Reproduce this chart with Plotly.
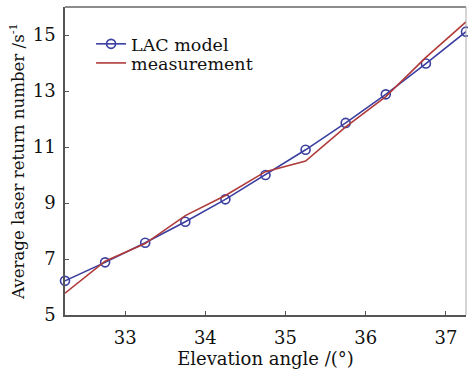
import plotly.graph_objects as go

angles = [32.25, 32.75, 33.25, 33.75, 34.25, 34.75, 35.25, 35.75, 36.25, 36.75, 37.25]
lac_model = [6.22, 6.88, 7.58, 8.33, 9.13, 10.0, 10.9, 11.86, 12.88, 13.98, 15.12]
measurement = [5.78, 6.92, 7.55, 8.55, 9.27, 10.12, 10.5, 11.72, 12.8, 14.2, 15.47]

x_ticks = [33, 34, 35, 36, 37]
y_ticks = [5, 7, 9, 11, 13, 15]

FONT = "DejaVu Serif"
TXT = "#111"

fig = go.Figure()
fig.add_trace(go.Scatter(
    x=angles, y=lac_model, mode="lines+markers", name="LAC model",
    line=dict(color="#3a3fa0", width=1.6),
    marker=dict(symbol="circle-open", size=9, color="#3a3fa0", line=dict(width=1.6)),
    cliponaxis=False, legend="legend",
))
fig.add_trace(go.Scatter(
    x=angles, y=measurement, mode="lines", name="measurement",
    line=dict(color="#b03a3a", width=1.6), legend="legend2",
))

leg_common = dict(xanchor="left", yanchor="middle", bgcolor="rgba(0,0,0,0)",
                  font=dict(family=FONT, size=17.5, color=TXT), itemwidth=30)

fig.update_layout(
    width=468, height=369,
    margin=dict(l=65, r=2, t=7, b=54),
    paper_bgcolor="white", plot_bgcolor="white",
    font=dict(family=FONT, size=18, color=TXT),
    showlegend=True,
    legend=dict(x=0.065, y=0.88, **leg_common),
    legend2=dict(x=0.065, y=0.818, **leg_common),
    xaxis=dict(range=[32.25, 37.25], tickvals=x_ticks, ticks="inside", ticklen=4,
               tickcolor="#555", showline=True, linecolor="#555", linewidth=1.5,
               showgrid=False, zeroline=False, tickfont=dict(size=18),
               ticklabelstandoff=6,
               title=dict(text="Elevation angle /(°)", standoff=0,
                          font=dict(family=FONT, size=18))),
    yaxis=dict(range=[5, 16], tickvals=y_ticks, ticks="inside", ticklen=4,
               tickcolor="#555", showline=True, linecolor="#555", linewidth=1.5,
               showgrid=False, zeroline=False, tickfont=dict(size=18),
               ticklabelstandoff=4,
               title=dict(text="Average laser return number /s<sup>-1</sup>", standoff=4,
                          font=dict(family=FONT, size=16.6))),
)
fig.add_shape(type="line", xref="paper", yref="paper", x0=0, x1=1, y0=1, y1=1,
              line=dict(color="#666", width=1.5))
fig.add_shape(type="line", xref="paper", yref="paper", x0=1, x1=1, y0=0, y1=1,
              line=dict(color="#aaa", width=1))

fig.write_html("out.html")
